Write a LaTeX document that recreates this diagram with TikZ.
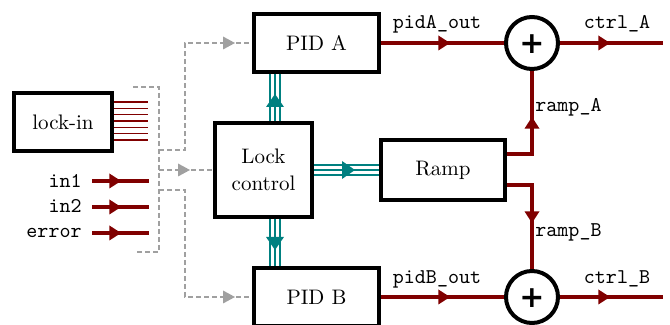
\documentclass[tikz,border=0pt]{standalone}
\usepackage{fontspec}
\newfontfamily\plusfont{DejaVu Sans}
\usetikzlibrary{arrows.meta,decorations.markings}
\definecolor{dred}{RGB}{128,0,0}
\definecolor{dteal}{RGB}{0,128,128}
\definecolor{lgray}{RGB}{160,160,160}
\begin{document}
\begin{tikzpicture}[x=0.5pt,y=-0.5pt,
  every node/.style={font=\fontsize{10.5}{13.5}\selectfont},
  blk/.style 2 args={draw,line width=2pt,minimum width=#1,minimum height=#2,inner sep=0pt,align=center},
  sumnode/.style={circle,draw,line width=2pt,minimum size=26pt,inner sep=0pt,
    font=\plusfont\bfseries\fontsize{15}{15}\selectfont,text height=10.8pt,text depth=0pt},
  lbl/.style={font=\ttfamily\fontsize{10.5}{13}\selectfont,inner sep=0pt},
  redline/.style={draw=dred,line width=1.7pt},
  graydash/.style={draw=lgray,line width=1pt,dash pattern=on 2.5pt off 1.5pt},
  tealtriple/.style={draw=dteal,line width=6pt,
    postaction={draw=white,line width=4pt},
    postaction={draw=dteal,line width=1pt}},
  redmid/.style={postaction={decorate,decoration={markings,
    mark=at position #1 with {\arrow[dred]{Triangle[length=5.8pt,width=7.5pt,line width=0pt]}}}}},
  graymid/.style={postaction={decorate,decoration={markings,
    mark=at position #1 with {\arrow[lgray]{Triangle[length=6pt,width=6.5pt,line width=0pt]}}}}},
  tealmid/.style={postaction={decorate,decoration={markings,
    mark=at position #1 with {\arrow[dteal]{Triangle[length=6.5pt,width=9pt,line width=0pt]}}}}}
]
\useasboundingbox (0,0) rectangle (670,325);

% blocks
\node[blk={49pt}{29pt}] (lockin) at (63,122) {lock-in};
\node[blk={62.5pt}{29pt}] (pidA) at (316.5,43) {PID A};
\node[blk={62.5pt}{29pt}] (pidB) at (316.5,297) {PID B};
\node[blk={48.5pt}{47pt}] (lockctl) at (263.5,170) {Lock\\control};
\node[blk={62pt}{30pt}] (ramp) at (443,170) {Ramp};
\node[sumnode] (sumA) at (532,43) {+};
\node[sumnode] (sumB) at (532,297) {+};

% labels
\node[lbl,anchor=base] (lpidA) at (437,29) {pidA\_out};
\node[lbl,anchor=base] (lctrlA) at (617,29) {ctrl\_A};
\node[lbl,anchor=base] (lpidB) at (437,284) {pidB\_out};
\node[lbl,anchor=base] (lctrlB) at (617,284) {ctrl\_B};
\node[lbl,anchor=base west] (lrampA) at (535,112) {ramp\_A};
\node[lbl,anchor=base west] (lrampB) at (535,237) {ramp\_B};
\node[lbl,anchor=base east] (in1) at (82,188) {in1};
\node[lbl,anchor=base east] (in2) at (82,213) {in2};
\node[lbl,anchor=base east] (err) at (82,238) {error};

% lock-in outputs
\foreach \i in {0,...,6}
  \draw[dred,line width=0.6pt] ([yshift={10pt-3.1667pt*\i}]lockin.east) -- ++(34,0);

% inputs
\coordinate (i1a) at (92,181); \coordinate (i1b) at (149,181);
\coordinate (i2a) at (92,207); \coordinate (i2b) at (149,207);
\coordinate (i3a) at (92,233); \coordinate (i3b) at (149,233);
\draw[redline,redmid=14.5pt] (i1a) -- (i1b);
\draw[redline,redmid=14.5pt] (i2a) -- (i2b);
\draw[redline,redmid=14.5pt] (i3a) -- (i3b);

% bracket
\draw[graydash] (133,87) -- (159,87) -- (159,252) -- (137,252);
\coordinate (bA) at (159,150);
\coordinate (bM) at (159,170);
\coordinate (bB) at (159,190);
\draw[graydash,graymid=-8.5pt] (bA) -- ++(26,0) |- (pidA.west);
\draw[graydash,graymid=-11.5pt] (bM) -- (lockctl.west);
\draw[graydash,graymid=-8.5pt] (bB) -- ++(26,0) |- (pidB.west);

% teal buses
\draw[tealtriple,tealmid=13.5pt] ([xshift=5.75pt]lockctl.north) -- ([xshift=5.75pt]lockctl.north |- pidA.south);
\draw[tealtriple,tealmid=15.5pt] ([xshift=5.75pt]lockctl.south) -- ([xshift=5.75pt]lockctl.south |- pidB.north);
\draw[tealtriple,tealmid=20.5pt] (lockctl.east) -- (ramp.west);

% red signal paths
\coordinate (ctrlAend) at (663,43);
\coordinate (ctrlBend) at (663,297);
\draw[redline,redmid=34.5pt] (pidA.east) -- (sumA.west);
\draw[redline,redmid=34.5pt] (pidB.east) -- (sumB.west);
\draw[redline,redmid=25pt] (sumA.east) -- (ctrlAend);
\draw[redline,redmid=25pt] (sumB.east) -- (ctrlBend);
\draw[redline,redmid=31pt] ([yshift=8pt]ramp.east) -| (sumA.south);
\draw[redline,redmid=31.5pt] ([yshift=-7.5pt]ramp.east) -| (sumB.north);
\end{tikzpicture}
\end{document}
